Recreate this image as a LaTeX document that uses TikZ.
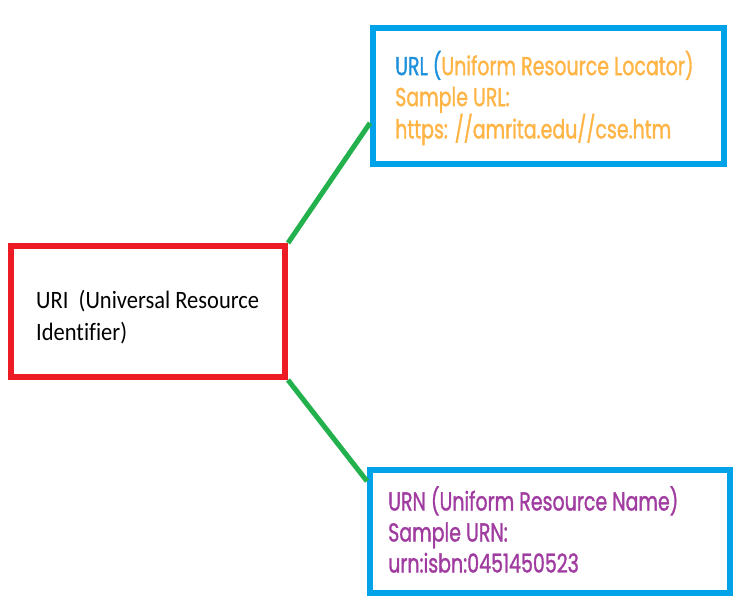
\documentclass[tikz,border=0pt]{standalone}
\usepackage{fontspec}
\newfontfamily\geofont[FakeStretch=0.73,FakeBold=1.2]{Poppins}
\newfontfamily\calfont[FakeStretch=0.9,Ligatures=NoCommon]{Carlito}
\usetikzlibrary{calc,positioning}
\definecolor{boxblue}{RGB}{0,162,232}
\definecolor{boxred}{RGB}{237,28,36}
\definecolor{linkgreen}{RGB}{34,177,76}
\definecolor{urlblue}{RGB}{30,144,220}
\definecolor{urlorange}{RGB}{255,180,70}
\definecolor{urnpurple}{RGB}{160,60,160}

\begin{document}
\begin{tikzpicture}[x=1pt,y=-1pt,
  box/.style={draw, line width=6pt, inner sep=0pt},
  boxtext/.style={anchor=west, align=left, inner sep=0pt},
  link/.style={draw=linkgreen, line width=5pt}]
\useasboundingbox (0,0) rectangle (743,609);
% the three boxes
\node[box, draw=boxred, minimum width=274pt, minimum height=131pt] (uri) at (148,311.5) {};
\node[box, draw=boxblue, minimum width=351pt, minimum height=136pt] (url) at (548.5,96) {};
\node[box, draw=boxblue, minimum width=360pt, minimum height=123pt] (urn) at (550,531.5) {};
% texts
\node[boxtext, font=\calfont\fontsize{25}{32}\selectfont] (uritext) at ($(uri.west)+(28,6)$)
  {URI\ \ (Universal Resource\\Identifier)};
\node[boxtext, font=\geofont\fontsize{26}{31}\selectfont, text=urlorange] (urltext) at ($(url.west)+(25,2)$)
  {\textcolor{urlblue}{URL (}Uniform Resource Locator)\\Sample URL:\\https: //amrita.edu//cse.htm};
\node[boxtext, font=\geofont\fontsize{26}{31}\selectfont, text=urnpurple] (urntext) at ($(urn.west)+(21,-2)$)
  {URN (Uniform Resource Name)\\Sample URN:\\urn:isbn:0451450523};
% connectors
\draw[link] (uri.north east) -- ($(url.south west)!0.31!(url.north west)$);
\draw[link] (uri.south east) -- ($(urn.north west)!0.11!(urn.south west)$);
\end{tikzpicture}
\end{document}
